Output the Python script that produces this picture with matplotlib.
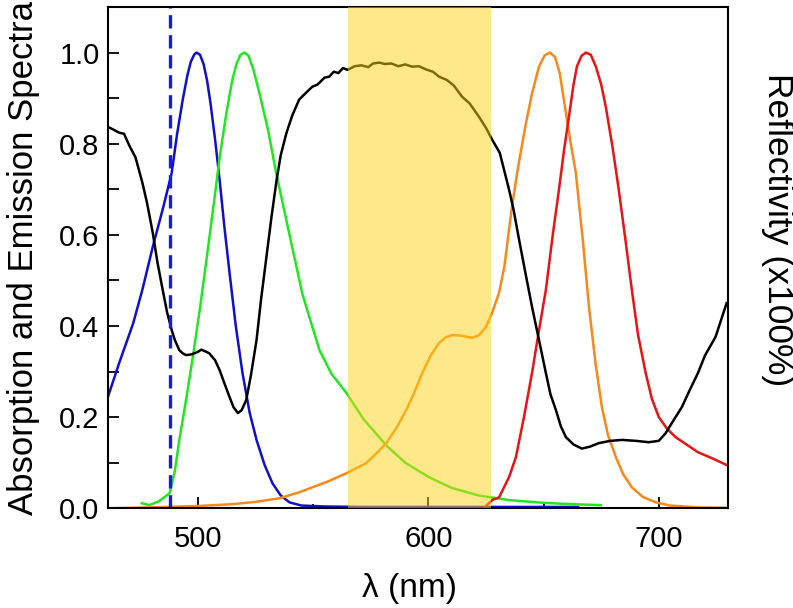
import numpy as np
import matplotlib.pyplot as plt
from matplotlib.ticker import MultipleLocator

# ------------------------------------------------------------------------------
# Datos (longitud de onda en nm, intensidad normalizada)
# ------------------------------------------------------------------------------
azul_x = [461, 466, 472, 476, 480.5, 485, 488.7, 491, 493.5, 495.5, 497, 498.5, 499.5,
          501, 502.5, 504, 505.5, 507.5, 509.5, 511.5, 513.8, 516.5, 519.4, 522.5,
          525.5, 529, 532.4, 536, 539.8, 545, 555, 570, 600, 630, 665]
azul_y = [0.244, 0.32, 0.406, 0.48, 0.574, 0.66, 0.736, 0.82, 0.897, 0.95, 0.98, 0.996,
          1.0, 0.995, 0.975, 0.94, 0.89, 0.81, 0.72, 0.62, 0.516, 0.40, 0.297, 0.21,
          0.15, 0.095, 0.055, 0.028, 0.013, 0.006, 0.004, 0.003, 0.003, 0.003, 0.003]

verde_x = [475.7, 479, 483, 487.8, 490, 492, 495, 497.8, 501, 503.9, 507, 509.5, 512.5,
           515, 516.8, 518.5, 520.3, 522, 524, 526.8, 530.5, 534, 539.8, 545.4, 552.8,
           558, 564.5, 572, 581.8, 590, 600.4, 610, 622, 635, 650, 662, 674.8]
verde_y = [0.011, 0.007, 0.015, 0.033, 0.08, 0.15, 0.24, 0.33, 0.44, 0.55, 0.67, 0.77,
           0.87, 0.94, 0.975, 0.995, 1.0, 0.993, 0.965, 0.91, 0.83, 0.736, 0.60, 0.47,
           0.347, 0.295, 0.253, 0.195, 0.138, 0.10, 0.068, 0.045, 0.028, 0.018, 0.012,
           0.009, 0.007]

negro_x = [461, 463, 466, 468, 470.5, 473, 476, 478, 480.5, 482.5, 484.8, 486.7, 488.7,
           490, 492, 493.5, 495, 497.5, 500, 501.5, 503, 505, 507.5, 509.5, 511.5,
           513.8, 515.5, 517.4, 519, 521, 523, 525.5, 527.5, 529.8, 532, 534.2, 536,
           538.5, 541, 544, 547, 549.7, 552, 555, 557, 559, 561, 563, 565, 568, 571,
           574, 576, 578.8, 581, 584, 587, 590, 593, 596, 599, 602, 604.7, 608, 611,
           614.7, 618, 622, 625, 627.7, 631, 635, 637, 639.4, 642, 645, 648, 651, 653,
           655.4, 657.5, 659.7, 663, 666.6, 670, 674, 679, 684, 690, 695.6, 700, 703,
           706, 710, 713, 717, 720, 724.6, 729.4]
negro_y = [0.837, 0.832, 0.824, 0.822, 0.794, 0.77, 0.714, 0.67, 0.604, 0.54, 0.479,
           0.43, 0.391, 0.37, 0.347, 0.34, 0.336, 0.338, 0.343, 0.348, 0.345, 0.34,
           0.325, 0.303, 0.275, 0.244, 0.222, 0.209, 0.215, 0.237, 0.29, 0.369, 0.46,
           0.552, 0.64, 0.72, 0.775, 0.824, 0.862, 0.897, 0.912, 0.925, 0.93, 0.945,
           0.947, 0.958, 0.955, 0.966, 0.962, 0.97, 0.972, 0.968, 0.976, 0.978, 0.975,
           0.976, 0.97, 0.974, 0.969, 0.97, 0.963, 0.958, 0.947, 0.94, 0.928, 0.903,
           0.888, 0.859, 0.835, 0.809, 0.78, 0.70, 0.655, 0.589, 0.52, 0.442, 0.37,
           0.297, 0.25, 0.215, 0.18, 0.156, 0.14, 0.131, 0.135, 0.143, 0.148, 0.15,
           0.148, 0.145, 0.148, 0.165, 0.19, 0.222, 0.255, 0.297, 0.335, 0.376, 0.45]

naranja_x = [461, 480, 500, 515, 525, 535.5, 544, 549.7, 557, 564.5, 568, 573, 577,
             581.8, 586, 590.4, 594, 597.4, 601, 604.7, 607.5, 610.4, 614, 619, 622,
             625, 627.7, 630.7, 633, 636.3, 639, 642.4, 645, 648, 650.5, 652.8, 655,
             657, 659, 661.5, 664, 667, 669.7, 672.5, 675.3, 678, 681.4, 684.5, 688.3,
             693, 698.7, 705, 717, 730]
naranja_y = [0.0, 0.002, 0.005, 0.009, 0.014, 0.022, 0.035, 0.046, 0.06, 0.077, 0.086,
             0.099, 0.118, 0.143, 0.175, 0.215, 0.255, 0.297, 0.335, 0.363, 0.375,
             0.38, 0.379, 0.374, 0.38, 0.398, 0.429, 0.473, 0.53, 0.662, 0.75, 0.846,
             0.91, 0.969, 0.994, 1.0, 0.99, 0.955, 0.89, 0.81, 0.736, 0.59, 0.442,
             0.32, 0.222, 0.16, 0.112, 0.075, 0.046, 0.025, 0.013, 0.006, 0.002, 0.001]

rojo_x = [624, 627.7, 630.7, 635, 638, 641.5, 645, 648, 651, 654, 656.7, 659, 661,
          663, 664.5, 666.5, 668.4, 670.5, 672.7, 675, 677, 680, 682.6, 685.5, 688.3,
          691, 694.3, 697, 700, 703.5, 707.3, 712, 717, 723, 729.4]
rojo_y = [0.0, 0.018, 0.024, 0.068, 0.112, 0.2, 0.297, 0.39, 0.479, 0.6, 0.70, 0.79,
          0.859, 0.93, 0.97, 0.993, 1.0, 0.995, 0.969, 0.93, 0.881, 0.79, 0.70, 0.59,
          0.479, 0.38, 0.297, 0.24, 0.20, 0.175, 0.156, 0.14, 0.123, 0.11, 0.095]

laser_nm = 488            # línea de excitación (nm)
banda = (565, 627)        # banda resaltada (nm)

# ------------------------------------------------------------------------------
# Figura
# ------------------------------------------------------------------------------
plt.rcParams['font.family'] = ['Liberation Sans', 'DejaVu Sans']

fig = plt.figure(figsize=(7.93, 6.08), dpi=100)
ax = fig.add_axes([0.136, 0.164, 0.782, 0.8245])

lw = 1.8
ax.plot(azul_x, azul_y, color='#1010C8', lw=lw)
ax.plot(verde_x, verde_y, color='#22E622', lw=lw)
ax.plot(naranja_x, naranja_y, color='#F7881C', lw=lw)
ax.plot(rojo_x, rojo_y, color='#E51515', lw=lw)
ax.plot(negro_x, negro_y, color='black', lw=lw)
ax.axvline(laser_nm, color='#1A1AE6', lw=2.4, ls=(0, (4, 2)))
ax.axvspan(banda[0], banda[1], color='#FFD317', alpha=0.5, lw=0, zorder=3)

ax.set_xlim(461, 730)
ax.set_ylim(0, 1.1)
ax.xaxis.set_major_locator(MultipleLocator(100))
ax.xaxis.set_minor_locator(MultipleLocator(50))
ax.yaxis.set_major_locator(MultipleLocator(0.2))
ax.yaxis.set_minor_locator(MultipleLocator(0.1))
ax.yaxis.set_major_formatter(plt.FormatStrFormatter('%.1f'))

ax.tick_params(axis='both', which='both', direction='in', width=1.3,
               top=False, right=False, labelsize=21)
ax.tick_params(axis='x', which='major', length=8, pad=12)
ax.tick_params(axis='x', which='minor', length=3)
ax.tick_params(axis='y', which='both', length=8, pad=6)
for s in ax.spines.values():
    s.set_linewidth(1.5)

ax.set_xlabel('λ (nm)', fontsize=24)
ax.xaxis.set_label_coords(0.487, -0.13)
ax.set_ylabel('Absorption and Emission Spectra', fontsize=25, labelpad=14)

# Eje derecho: solo la etiqueta (sin marcas)
fig.text(0.981, 0.622, 'Reflectivity (x100%)', fontsize=25.5, rotation=-90,
         ha='center', va='center')

fig.savefig('out.png', dpi=100)
